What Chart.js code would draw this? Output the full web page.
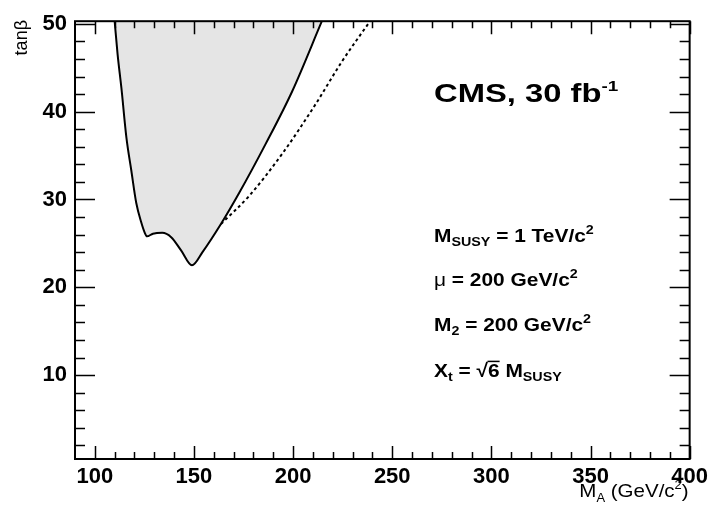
<!DOCTYPE html>
<html>
<head>
<meta charset="utf-8">
<title>tan beta vs M_A, CMS 30 fb-1</title>
<script src="https://cdn.jsdelivr.net/npm/chart.js@4.4.0/dist/chart.umd.min.js"></script>
<style>
    html, body { margin: 0; padding: 0; background: #fff; }
    #wrap { width: 713px; height: 509px; }
</style>
</head>
<body>
<div id="wrap"><canvas id="reachChart" width="713" height="509"></canvas></div>
<script>
'use strict';

// shaded region boundary (solid line)
var solidMA   = [110.0, 111.5, 113.4, 115.9, 118.4, 120.9, 123.4, 125.2, 126.3, 129.3, 134.0, 138.5, 143.5, 149.0, 154.3, 163.6, 172.7, 186.1, 199.5, 214.5];
var solidTanb = [50.3, 46.5, 42.7, 37.1, 33.3, 29.6, 27.4, 26.2, 25.8, 26.1, 26.2, 25.7, 24.2, 22.5, 24.0, 27.2, 30.7, 36.3, 42.3, 50.3];

// dashed curve
var dashedMA   = [163.6, 177.8, 194.5, 211.2, 224.6, 238.8];
var dashedTanb = [27.2, 30.4, 35.2, 40.8, 45.7, 50.3];

var xTickLabels = [100, 150, 200, 250, 300, 350, 400];
var yTickLabels = [10, 20, 30, 40, 50];

var fontName = '"Liberation Sans", Arial, Helvetica, sans-serif';

function toPoints(xs, ys) {
    return xs.map(function (x, i) { return { x: x, y: ys[i] }; });
}

function setFont(ctx, r) {
    ctx.font = (r.bold ? 'bold ' : '') + r.size + 'px ' + fontName;
}

function runWidth(ctx, runs) {
    var w = 0;
    runs.forEach(function (r) {
        setFont(ctx, r);
        w += ctx.measureText(r.text).width;
    });
    return w;
}

// draw a row of text pieces (sub/superscripts via dy), stretched by sx
function drawRuns(ctx, x, y, runs, sx) {
    var cx = 0;
    ctx.save();
    ctx.translate(x, y);
    ctx.scale(sx || 1, 1);
    runs.forEach(function (r) {
        setFont(ctx, r);
        ctx.fillText(r.text, cx, r.dy || 0);
        var w = ctx.measureText(r.text).width;
        if (r.over) {
            ctx.fillRect(cx + r.over, -r.size * 0.86, w - r.over, 1.5);
        }
        cx += w;
    });
    ctx.restore();
}

// ROOT style frame with inward ticks on all four sides
var rootFrame = {
    id: 'rootFrame',
    afterDatasetsDraw: function (chart) {
        var ctx = chart.ctx, a = chart.chartArea;
        var xs = chart.scales.x, ys = chart.scales.y;
        var v, p, len;
        ctx.save();
        ctx.strokeStyle = '#000';
        ctx.lineWidth = 1.5;
        ctx.beginPath();
        for (v = 100; v <= 400; v += 10) {
            p = Math.round(xs.getPixelForValue(v)) + 0.5;
            len = (v % 50 === 0) ? 13 : 7;
            ctx.moveTo(p, a.bottom); ctx.lineTo(p, a.bottom - len);
            ctx.moveTo(p, a.top); ctx.lineTo(p, a.top + len);
        }
        for (v = 2; v <= 50; v += 2) {
            p = Math.round(ys.getPixelForValue(v)) + 0.5;
            len = (v % 10 === 0) ? 20 : 10;
            ctx.moveTo(a.left, p); ctx.lineTo(a.left + len, p);
            ctx.moveTo(a.right, p); ctx.lineTo(a.right - len, p);
        }
        ctx.stroke();
        ctx.lineWidth = 2;
        ctx.strokeRect(a.left, a.top, a.right - a.left, a.bottom - a.top);
        ctx.restore();
    }
};

var annotations = {
    id: 'annotations',
    afterDraw: function (chart) {
        var ctx = chart.ctx, a = chart.chartArea;
        ctx.save();
        ctx.fillStyle = '#000';
        ctx.textBaseline = 'alphabetic';
        ctx.textAlign = 'left';

        drawRuns(ctx, 434, 102, [
            { text: 'CMS, 30 fb', size: 26, bold: true },
            { text: '-1', size: 15, bold: true, dy: -11 }
        ], 1.26);
        drawRuns(ctx, 434, 242, [
            { text: 'M', size: 19, bold: true },
            { text: 'SUSY', size: 13, bold: true, dy: 4 },
            { text: ' = 1 TeV/c', size: 19, bold: true },
            { text: '2', size: 13, bold: true, dy: -8 }
        ], 1.1);
        drawRuns(ctx, 434, 286, [
            { text: 'μ', size: 19 },
            { text: ' = 200 GeV/c', size: 19, bold: true },
            { text: '2', size: 13, bold: true, dy: -8 }
        ], 1.1);
        drawRuns(ctx, 434, 331, [
            { text: 'M', size: 19, bold: true },
            { text: '2', size: 13, bold: true, dy: 4 },
            { text: ' = 200 GeV/c', size: 19, bold: true },
            { text: '2', size: 13, bold: true, dy: -8 }
        ], 1.1);
        drawRuns(ctx, 434, 377, [
            { text: 'X', size: 19, bold: true },
            { text: 't', size: 13, bold: true, dy: 4 },
            { text: ' = ', size: 19, bold: true },
            { text: '√6', size: 19, bold: true, over: 10 },
            { text: ' M', size: 19, bold: true },
            { text: 'SUSY', size: 13, bold: true, dy: 4 }
        ], 1.1);

        // x axis title, right aligned to the frame
        var xTitle = [
            { text: 'M', size: 19 },
            { text: 'A', size: 12, dy: 5 },
            { text: ' (GeV/c', size: 19 },
            { text: '2', size: 12, dy: -8 },
            { text: ')', size: 19 }
        ];
        drawRuns(ctx, a.right - 1 - runWidth(ctx, xTitle) * 1.08, 497, xTitle, 1.08);

        // y axis title
        ctx.translate(22, 20);
        ctx.rotate(-Math.PI / 2);
        ctx.textAlign = 'right';
        ctx.textBaseline = 'middle';
        ctx.font = '18px ' + fontName;
        ctx.fillText('tanβ', 0, 0);
        ctx.restore();
    }
};

var reachChart = new Chart(document.getElementById('reachChart'), {
    type: 'line',
    data: {
        datasets: [
            {
                label: 'solid',
                data: toPoints(solidMA, solidTanb),
                borderColor: '#000',
                borderWidth: 2,
                backgroundColor: 'rgb(229, 229, 229)',
                fill: 'end',
                pointRadius: 0,
                cubicInterpolationMode: 'monotone'
            },
            {
                label: 'dashed',
                data: toPoints(dashedMA, dashedTanb),
                borderColor: '#000',
                borderWidth: 2,
                borderDash: [3, 3],
                fill: false,
                pointRadius: 0,
                cubicInterpolationMode: 'monotone'
            }
        ]
    },
    options: {
        responsive: false,
        animation: false,
        layout: { padding: { top: 14, right: 20, left: 0, bottom: 0 } },
        plugins: {
            legend: { display: false },
            tooltip: { enabled: false }
        },
        scales: {
            x: {
                type: 'linear',
                min: 90,
                max: 400,
                grid: { display: false, drawTicks: false },
                border: { display: false },
                afterBuildTicks: function (scale) {
                    scale.ticks = xTickLabels.map(function (v) { return { value: v }; });
                },
                afterFit: function (scale) { scale.height = 50; },
                ticks: {
                    autoSkip: false,
                    maxRotation: 0,
                    padding: 5,
                    color: '#000',
                    font: { family: fontName, size: 22, weight: 'bold' }
                }
            },
            y: {
                type: 'linear',
                min: 0.45,
                max: 50.3,
                grid: { display: false, drawTicks: false },
                border: { display: false },
                afterBuildTicks: function (scale) {
                    scale.ticks = yTickLabels.map(function (v) { return { value: v }; });
                },
                afterFit: function (scale) { scale.width = 75; },
                ticks: {
                    autoSkip: false,
                    padding: 8,
                    color: '#000',
                    font: { family: fontName, size: 22, weight: 'bold' }
                }
            }
        }
    },
    plugins: [rootFrame, annotations]
});
</script>
</body>
</html>
